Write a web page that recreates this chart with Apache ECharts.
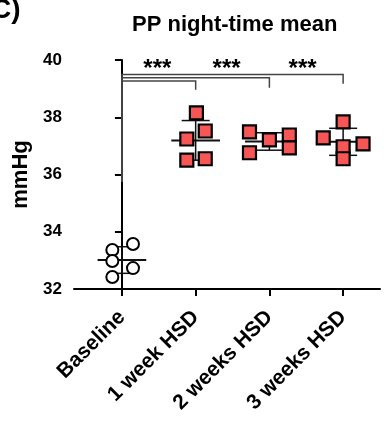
<!DOCTYPE html>
<html><head><meta charset="utf-8">
<script src="https://cdn.jsdelivr.net/npm/echarts@6/dist/echarts.min.js"></script>
<style>html,body{margin:0;padding:0;background:#fff}#c{width:384px;height:423px}</style>
</head><body><div id="c"></div>
<script>
const categories = ['Baseline', '1 week HSD', '2 weeks HSD', '3 weeks HSD'];
const baseline = [33.36, 32.98, 32.42, 33.57, 32.73];
const week1 = [38.15, 37.52, 37.24, 36.50, 36.55];
const week2 = [37.49, 36.76, 37.21, 37.38, 36.93];
const week3 = [37.84, 37.28, 36.97, 37.07, 36.55];
const baselineJitter = [-0.13, -0.13, -0.13, 0.15, 0.15];
const week1Jitter = [0.01, 0.13, -0.12, -0.12, 0.13];
const week2Jitter = [-0.27, -0.27, 0, 0.27, 0.27];
const week3Jitter = [0, -0.27, 0, 0.27, 0];
const yTicks = [32, 34, 36, 38, 40];
// significance brackets: [from, to, line y, drop y]
const brackets = [[0, 3, 39.49, 39.17], [0, 2, 39.38, 39.03], [0, 1, 39.27, 38.96]];
const bracketStemBottom = 35.74;
const stars = [['***', 0.48, 39.68], ['***', 1.42, 39.68], ['***', 2.45, 39.68]];

const FONT = '"Liberation Sans", Arial, sans-serif';
const groups = [baseline, week1, week2, week3];
const jitters = [baselineJitter, week1Jitter, week2Jitter, week3Jitter];

function mean(a) { return a.reduce((s, v) => s + v, 0) / a.length; }
function sd(a) { const m = mean(a); return Math.sqrt(a.reduce((s, v) => s + (v - m) * (v - m), 0) / (a.length - 1)); }

const circleData = baseline.map((v, i) => [0 + baselineJitter[i], v]);
const squareData = [];
for (let g = 1; g < groups.length; g++) {
  groups[g].forEach((v, i) => squareData.push([g + jitters[g][i], v]));
}
const statData = groups.map((a, g) => [g, mean(a), sd(a)]);

const chart = echarts.init(document.getElementById('c'), null, { renderer: 'canvas' });
const lineStyle = { stroke: '#111', lineWidth: 1.5 };

chart.setOption({
  animation: false,
  title: [
    { text: 'PP night-time mean', left: 127, top: 9, textStyle: { fontFamily: FONT, fontWeight: 'bold', fontSize: 22, color: '#000' } },
    { text: 'C)', left: -14, top: -9, textStyle: { fontFamily: FONT, fontWeight: 'bold', fontSize: 28, color: '#000' } }
  ],
  grid: { left: 74, right: 4, top: 60, bottom: 134, containLabel: false, outerBoundsMode: 'none' },
  xAxis: {
    type: 'value', min: -0.65, max: 3.5,
    splitLine: { show: false },
    axisLine: { lineStyle: { color: '#000', width: 2 } },
    axisTick: { show: true, length: 7, lineStyle: { color: '#000', width: 2 }, customValues: [0, 1, 2, 3] },
    axisLabel: {
      customValues: [0, 1, 2, 3],
      formatter: v => categories[Math.round(v)],
      rotate: 45, margin: 25,
      fontFamily: FONT, fontWeight: 'bold', fontSize: 21, color: '#000'
    }
  },
  yAxis: {
    type: 'value', min: 32, max: 40, interval: 2,
    name: 'mmHg', nameLocation: 'middle', nameGap: 33, nameRotate: 90,
    nameTextStyle: { fontFamily: FONT, fontWeight: 'bold', fontSize: 22, color: '#000' },
    splitLine: { show: false },
    axisLine: { show: true, lineStyle: { color: '#000', width: 2 } },
    axisTick: { show: true, length: 7, lineStyle: { color: '#000', width: 2 } },
    axisLabel: { margin: 12, fontFamily: FONT, fontWeight: 'bold', fontSize: 17, color: '#000',
      formatter: v => yTicks.includes(v) ? String(v) : '' }
  },
  series: [
    {
      type: 'custom', z: 1, data: statData,
      renderItem: (params, api) => {
        const g = api.value(0), m = api.value(1), s = api.value(2);
        const pm1 = api.coord([g - 0.33, m]), pm2 = api.coord([g + 0.33, m]);
        const top = api.coord([g, m + s]), bot = api.coord([g, m - s]);
        const c1 = api.coord([g - 0.19, m + s]), c2 = api.coord([g + 0.19, m + s]);
        const d1 = api.coord([g - 0.19, m - s]), d2 = api.coord([g + 0.19, m - s]);
        return { type: 'group', children: [
          { type: 'line', shape: { x1: pm1[0], y1: pm1[1], x2: pm2[0], y2: pm2[1] }, style: { stroke: '#111', lineWidth: 2 } },
          { type: 'line', shape: { x1: top[0], y1: top[1], x2: bot[0], y2: bot[1] }, style: lineStyle },
          { type: 'line', shape: { x1: c1[0], y1: c1[1], x2: c2[0], y2: c2[1] }, style: lineStyle },
          { type: 'line', shape: { x1: d1[0], y1: d1[1], x2: d2[0], y2: d2[1] }, style: lineStyle }
        ] };
      }
    },
    {
      type: 'custom', z: 1, data: brackets,
      renderItem: (params, api) => {
        const f = api.value(0), t = api.value(1), yl = api.value(2), yd = api.value(3);
        const a = api.coord([f, bracketStemBottom]), b = api.coord([f, yl]);
        const c = api.coord([t, yl]), d = api.coord([t, yd]);
        return { type: 'polyline', shape: { points: [a, b, c, d] }, style: { stroke: '#444', lineWidth: 1.5, fill: null } };
      }
    },
    {
      type: 'custom', z: 3, data: stars,
      renderItem: (params, api) => {
        const p = api.coord([api.value(1), api.value(2)]);
        return { type: 'text', x: p[0], y: p[1], style: { text: stars[params.dataIndex][0], fill: '#000',
          font: 'bold 24px ' + FONT, align: 'center', verticalAlign: 'middle' } };
      },
      dimensions: ['t', 'x', 'y'], encode: { x: 1, y: 2 }
    },
    {
      type: 'scatter', z: 4, data: circleData, symbol: 'circle', symbolSize: 12,
      itemStyle: { color: '#fff', borderColor: '#000', borderWidth: 2, opacity: 1 }
    },
    {
      type: 'scatter', z: 4, data: squareData, symbol: 'rect', symbolSize: 13,
      itemStyle: { color: '#f65656', borderColor: '#000', borderWidth: 2.2, opacity: 1 }
    }
  ]
});
</script></body></html>
